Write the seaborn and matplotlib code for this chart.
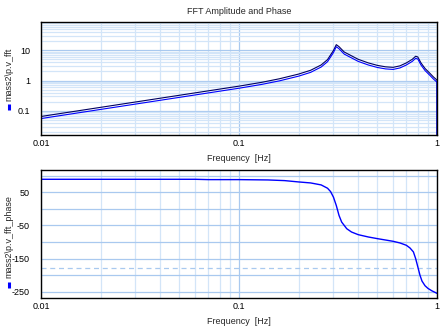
import numpy as np
import pandas as pd
import matplotlib
matplotlib.use("Agg")
import matplotlib.pyplot as plt
import matplotlib.patheffects as pe
from matplotlib.lines import Line2D
from matplotlib.ticker import LogLocator, FixedLocator, NullFormatter
import seaborn as sns

# FFT magnitude of mass2 velocity
amp_freq = [0.01, 0.02, 0.03, 0.05, 0.07, 0.1, 0.13, 0.16, 0.2, 0.23, 0.26, 0.28,
            0.3, 0.31, 0.32, 0.34, 0.37, 0.4, 0.45, 0.5, 0.55, 0.6, 0.65, 0.7,
            0.75, 0.78, 0.8, 0.83, 0.87, 0.92, 0.96, 1.0, 1.0]
amp_vals = [0.06, 0.12, 0.18, 0.3, 0.42, 0.6, 0.8, 1.05, 1.5, 2.0, 3.0, 4.5,
            9.0, 14.0, 12.0, 8.0, 6.0, 4.6, 3.5, 2.9, 2.6, 2.5, 2.8, 3.5,
            4.6, 5.8, 5.5, 3.5, 2.3, 1.6, 1.2, 0.95, 0.001]

# FFT phase of mass2 velocity (degrees)
ph_freq = [0.01, 0.05, 0.06, 0.07, 0.1, 0.14, 0.17, 0.2, 0.23, 0.26, 0.28, 0.29,
           0.3, 0.31, 0.32, 0.33, 0.35, 0.37, 0.4, 0.45, 0.5, 0.6, 0.65, 0.7,
           0.73, 0.76, 0.78, 0.8, 0.82, 0.84, 0.87, 0.9, 0.94, 1.0]
ph_vals = [89, 89, 89, 88, 88, 87, 85, 81, 78, 72, 62, 52,
           35, 10, -20, -40, -60, -70, -78, -85, -90, -98, -103, -110,
           -118, -130, -150, -175, -200, -218, -232, -240, -247, -255]
ph_ref = -180

x_ticks = [0.01, 0.1, 1]
x_tick_labels = ["0.01", "0.1", "1"]
amp_ticks = [0.1, 1, 10]
amp_tick_labels = ["0.1", "1", "10"]
ph_ticks = [50, -50, -150, -250]

title = "FFT Amplitude and Phase"
xlabel = "Frequency  [Hz]"
amp_label = "mass2\\p.v_fft"
ph_label = "mass2\\p.v_fft_phase"

sns.set_style("white")
plt.rcParams["font.family"] = ["Liberation Sans", "DejaVu Sans"]
plt.rcParams["font.size"] = 6
plt.rcParams["axes.unicode_minus"] = False

BLUE = "#0000ff"
NAVY = "#000060"
MAJOR = "#a9c9ef"
MINOR = "#d3e5f8"

W, H = 445, 326
fig = plt.figure(figsize=(W / 100, H / 100), dpi=100)

def px_axes(left, top, right, bottom):
    return fig.add_axes([left / W, 1 - bottom / H, (right - left) / W, (bottom - top) / H])

ax1 = px_axes(41, 22, 437, 135)
ax2 = px_axes(41, 170, 437, 298)

amp_df = pd.DataFrame({"f": amp_freq, "a": amp_vals})
ph_df = pd.DataFrame({"f": ph_freq, "p": ph_vals})

# Magnitude drawn as a double trace: dark edge above, blue edge below
sns.lineplot(data=amp_df, x="f", y="a", ax=ax1, color=BLUE, lw=0.8, sort=False,
             estimator=None,
             path_effects=[pe.Stroke(offset=(0, 0.8), foreground=NAVY, linewidth=0.8),
                           pe.Stroke(offset=(0, -0.7), foreground=BLUE, linewidth=0.8)])
ax1.set_xscale("log")
ax1.set_yscale("log")
ax1.set_ylim(0.016, 85)

sns.lineplot(data=ph_df, x="f", y="p", ax=ax2, color=BLUE, lw=1.0, sort=False,
             estimator=None)
ax2.axhline(ph_ref, color=MAJOR, lw=0.9, ls=(0, (4, 3)), zorder=1)
ax2.set_xscale("log")
ax2.set_ylim(-269, 117)

for ax in (ax1, ax2):
    ax.set_xlim(0.01, 1)
    ax.set_xticks(x_ticks)
    ax.set_xticklabels(x_tick_labels)
    ax.xaxis.set_minor_locator(LogLocator(base=10, subs=np.arange(2, 10)))
    ax.xaxis.set_minor_formatter(NullFormatter())
    ax.grid(True, which="major", color=MAJOR, lw=0.9)
    ax.grid(True, which="minor", color=MINOR, lw=0.9)
    ax.set_axisbelow(True)
    ax.tick_params(which="both", length=0, labelsize=6.5, colors="black")
    ax.tick_params(axis="y", pad=8)
    ax.tick_params(axis="x", pad=3)
    ax.set_xlabel(xlabel, fontsize=6.5, labelpad=4)
    ax.set_ylabel("")
    for s in ax.spines.values():
        s.set_color("black")
        s.set_linewidth(1.0)

ax1.set_yticks(amp_ticks)
ax1.set_yticklabels(amp_tick_labels)
ax1.yaxis.set_minor_locator(LogLocator(base=10, subs=np.arange(2, 10)))
ax1.yaxis.set_minor_formatter(NullFormatter())

ax2.set_yticks(ph_ticks)
ax2.yaxis.set_minor_locator(FixedLocator([100, 0, -100, -200]))
ax2.grid(True, which="minor", axis="y", color=MAJOR, lw=0.9)
ax2.grid(False, which="minor", axis="x")
ax2.grid(True, which="minor", axis="x", color=MINOR, lw=0.9)

fig.text(0.5 * (41 + 437) / W, 1 - 12 / H, title, ha="center", va="center", fontsize=6.5)

# Series labels with legend swatches, rotated along the left edge
for label, text_bottom, sw_top, sw_bot in [(amp_label, 101, 104, 110),
                                           (ph_label, 278, 282, 288)]:
    fig.text(9 / W, 1 - text_bottom / H, label, rotation=90, ha="center",
             va="bottom", fontsize=6.5)
    fig.add_artist(Line2D([9 / W, 9 / W], [1 - sw_top / H, 1 - sw_bot / H],
                          color=BLUE, lw=2.2, solid_capstyle="butt"))

fig.savefig("out.png", dpi=100)
